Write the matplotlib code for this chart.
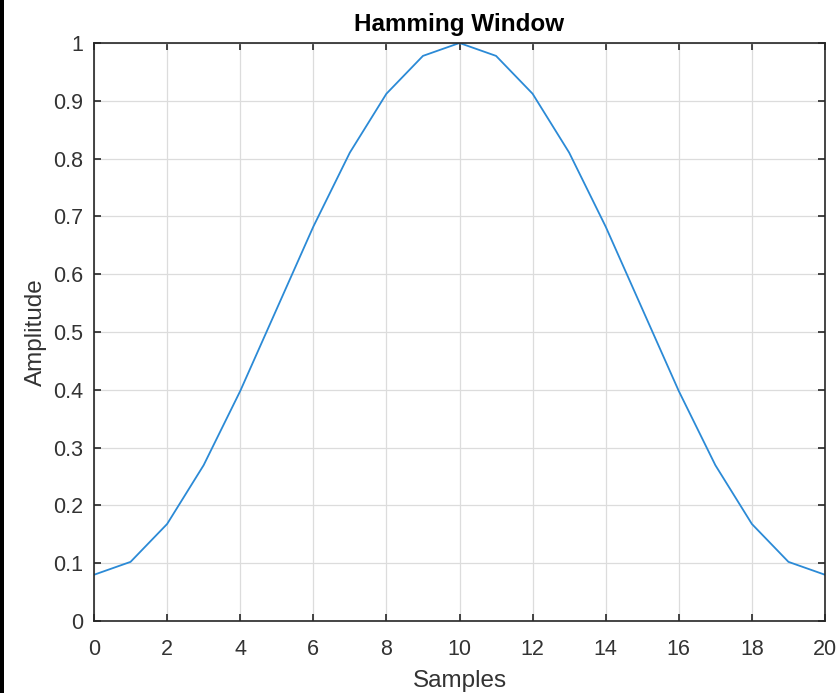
import matplotlib
matplotlib.use("Agg")
import matplotlib.pyplot as plt
from matplotlib.patches import Rectangle

samples = list(range(21))
amplitude = [0.08, 0.1023, 0.1678, 0.2696, 0.3978, 0.54, 0.6822, 0.8104, 0.9122, 0.9777,
             1.0, 0.9777, 0.9122, 0.8104, 0.6822, 0.54, 0.3978, 0.2696, 0.1678, 0.1023, 0.08]
xticks = list(range(0, 21, 2))
yticks = [0, 0.1, 0.2, 0.3, 0.4, 0.5, 0.6, 0.7, 0.8, 0.9, 1]
ytick_labels = ["0", "0.1", "0.2", "0.3", "0.4", "0.5", "0.6", "0.7", "0.8", "0.9", "1"]

plt.rcParams['font.family'] = ['Liberation Sans', 'DejaVu Sans']

fig = plt.figure(figsize=(8.39, 6.93), dpi=100)
fig.patches.append(Rectangle((0, 0), 4 / 839, 1, transform=fig.transFigure,
                             facecolor='black', edgecolor='none', zorder=10))
ax = fig.add_axes([94 / 839, 72 / 693, (825 - 94) / 839, (621 - 43) / 693])

ax.plot(samples, amplitude, color='#2b8ad6', linewidth=1.3)
ax.set_xlim(0, 20)
ax.set_ylim(0, 1)
ax.set_xticks(xticks)
ax.set_yticks(yticks)
ax.set_yticklabels(ytick_labels)
ax.grid(True, color='#DCDCDC', linewidth=0.9)
ax.set_axisbelow(True)
ax.tick_params(direction='in', top=True, right=True, length=5, width=1.2,
               colors='#262626', labelsize=15.5, labelcolor='#333333')
ax.tick_params(axis='x', pad=13)
ax.tick_params(axis='y', pad=8)
for s in ax.spines.values():
    s.set_color('#262626')
    s.set_linewidth(1.2)

ax.set_title("Hamming Window", fontsize=17.5, fontweight='bold', color='black', pad=9)
ax.set_xlabel("Samples", fontsize=17.5, color='#333333', labelpad=7)
ax.set_ylabel("Amplitude", fontsize=17.5, color='#333333', labelpad=4)

fig.savefig("out.png", dpi=100)
